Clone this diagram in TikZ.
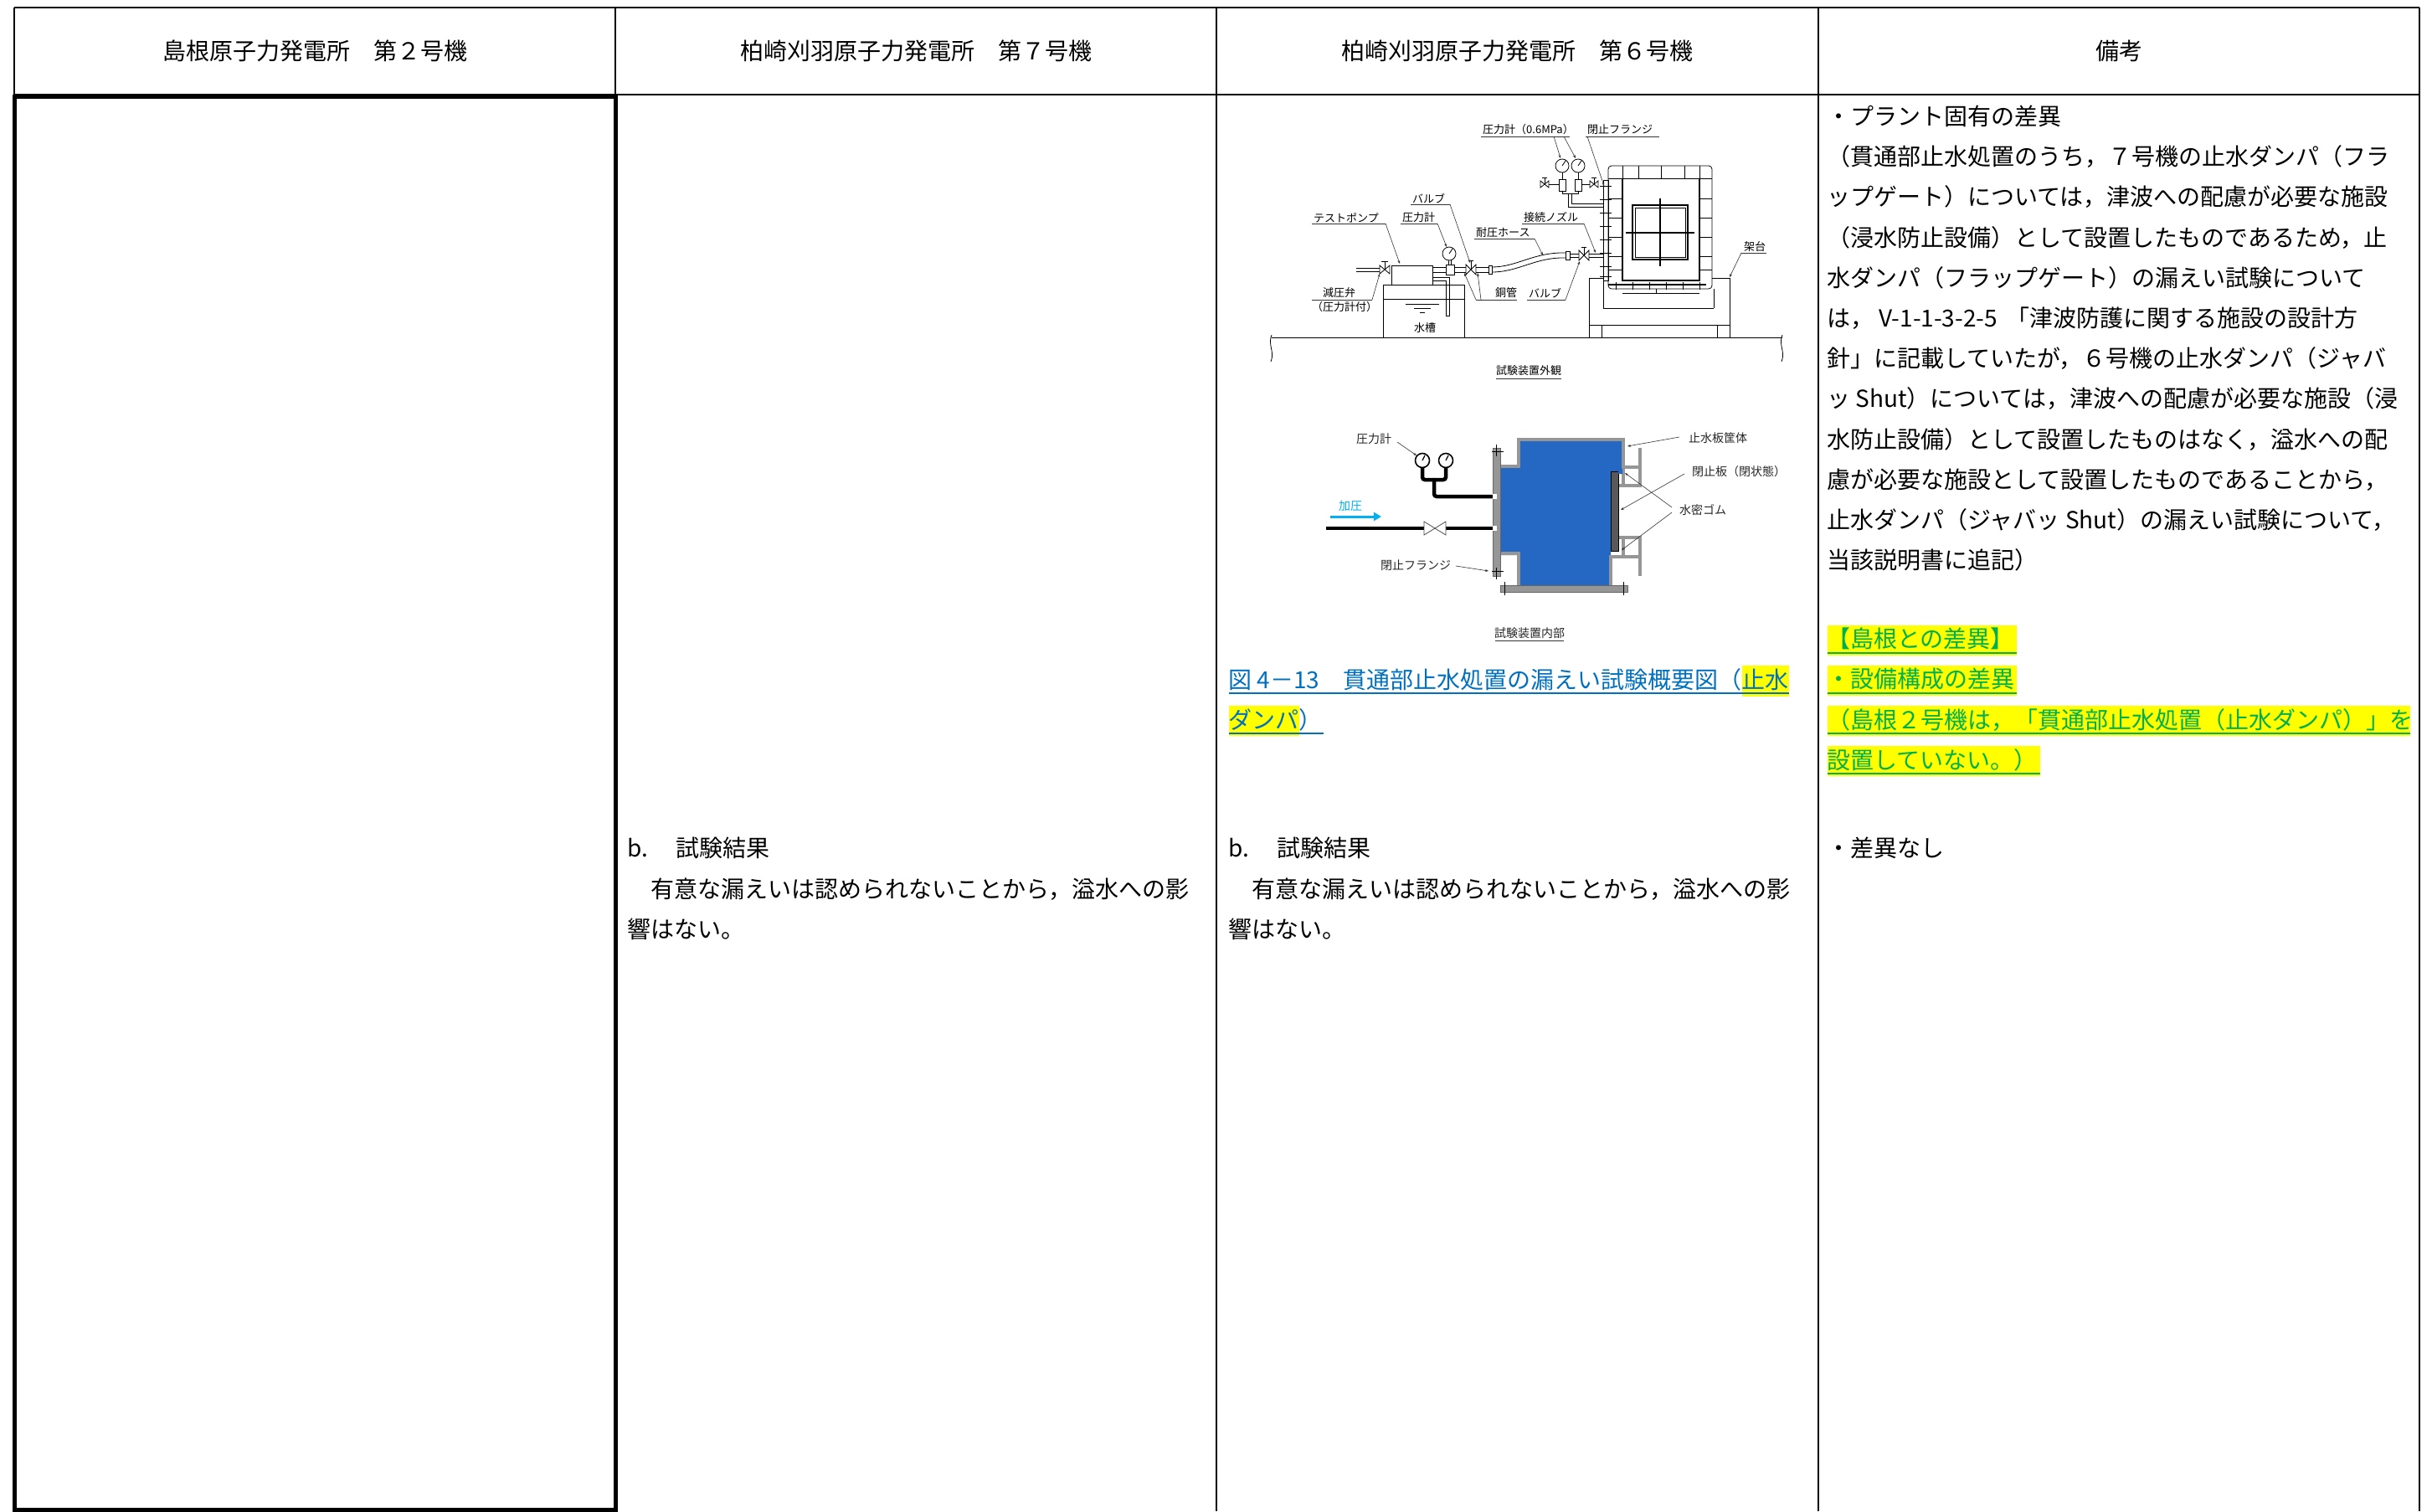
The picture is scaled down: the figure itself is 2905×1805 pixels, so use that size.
\documentclass[tikz,border=0pt]{standalone}
\usepackage{fontspec}
\setmainfont{Noto Sans CJK JP}
\usetikzlibrary{arrows.meta}
\definecolor{hlyellow}{RGB}{255,255,0}
\definecolor{hlgreen}{RGB}{0,176,80}
\definecolor{capblue}{RGB}{0,112,192}
\definecolor{waterblue}{RGB}{36,104,196}
\definecolor{arrowcyan}{RGB}{0,176,240}
\definecolor{steelgray}{RGB}{150,150,150}
\begin{document}
\begin{tikzpicture}[x=1pt,y=-1pt,
  gridline/.style={line width=2pt, black},
  thickgrid/.style={line width=5pt, black},
  body/.style={font=\fontsize{28}{34}\selectfont, inner sep=0pt, anchor=west},
  head/.style={font=\fontsize{28}{34}\selectfont, inner sep=0pt},
  hltext/.style={body, text=hlgreen},
  capt/.style={body, text=capblue},
  ln/.style={line width=0.8pt, black},
  hv/.style={line width=1.4pt, black},
  lbl/.style={font=\fontsize{13}{15}\selectfont, inner sep=0pt, anchor=west},
  lblb/.style={font=\fontsize{14}{16}\selectfont, inner sep=0pt, anchor=west, text=black!85},
  leader/.style={line width=0.6pt, black!80},
  ptr/.style={leader, -{Stealth[length=4pt,width=3pt]}},
  wall/.style={line width=3.5pt, steelgray},
  blackpipe/.style={line width=4.5pt, black, line cap=round, rounded corners=3pt},
]
\useasboundingbox (0,0) rectangle (2905,1805);
\fill[white] (0,0) rectangle (2905,1805);

% ---------------- table ----------------
\draw[gridline] (17,9) -- (2890,9);
\draw[gridline] (17,9) -- (17,115);
\draw[gridline] (17,113) -- (2890,113);
\draw[gridline] (735,9) -- (735,1805);
\draw[gridline] (1453,9) -- (1453,1805);
\draw[gridline] (2172,9) -- (2172,1805);
\draw[gridline] (2890,9) -- (2890,1805);
\draw[thickgrid] (17,115) rectangle (735,1803);

\node[head] (h1) at (376,61) {島根原子力発電所　第２号機};
\node[head] (h2) at (1094,61) {柏崎刈羽原子力発電所　第７号機};
\node[head] (h3) at (1812,61) {柏崎刈羽原子力発電所　第６号機};
\node[head] (h4) at (2531,61) {備考};

% ---------------- column 2 ----------------
\node[body] (c2a) at (749,1013) {\makebox[58pt][l]{b.}試験結果};
\node[body] (c2b) at (749,1062) {　有意な漏えいは認められないことから，溢水への影};
\node[body] (c2c) at (749,1110) {響はない。};

% ---------------- column 3 ----------------
\node[body] (c3a) at (1467,1013) {\makebox[58pt][l]{b.}試験結果};
\node[body] (c3b) at (1467,1062) {　有意な漏えいは認められないことから，溢水への影};
\node[body] (c3c) at (1467,1110) {響はない。};

\fill[hlyellow] (2081,795) rectangle (2137,832);
\fill[hlyellow] (1468,843) rectangle (1552,879);
\node[capt] (cap1) at (1467,812) {\makebox[137pt][l]{図 4－13}貫通部止水処置の漏えい試験概要図（止水};
\node[capt] (cap2) at (1467,860) {ダンパ）};
\draw[capblue, line width=2pt] (1468,828) -- (2137,828);
\draw[capblue, line width=2pt] (1468,876) -- (1581,876);

% ---------------- column 4 ----------------
\node[body] (r1) at (2182,139) {・プラント固有の差異};
\node[body] (r2) at (2182,187) {（貫通部止水処置のうち，７号機の止水ダンパ（フラ};
\node[body] (r3) at (2182,235) {ップゲート）については，津波への配慮が必要な施設};
\node[body] (r4) at (2182,284) {（浸水防止設備）として設置したものであるため，止};
\node[body] (r5) at (2182,332) {水ダンパ（フラップゲート）の漏えい試験について};
\node[body] (r6) at (2182,380) {は，\makebox[158pt][l]{\hspace{6pt}V-1-1-3-2-5}「津波防護に関する施設の設計方};
\node[body] (r7) at (2182,428) {針」に記載していたが，６号機の止水ダンパ（ジャバ};
\node[body] (r8) at (2182,476) {ッ Shut）については，津波への配慮が必要な施設（浸};
\node[body] (r9) at (2182,525) {水防止設備）として設置したものはなく，溢水への配};
\node[body] (r10) at (2182,573) {慮が必要な施設として設置したものであることから，};
\node[body] (r11) at (2182,621) {止水ダンパ（ジャバッ Shut）の漏えい試験について，};
\node[body] (r12) at (2182,669) {当該説明書に追記）};

\fill[hlyellow] (2183,747) rectangle (2409,783);
\fill[hlyellow] (2183,795) rectangle (2409,831);
\fill[hlyellow] (2183,843) rectangle (2879,879);
\fill[hlyellow] (2183,891) rectangle (2437,927);
\node[hltext] (g1) at (2182,763) {【島根との差異】};
\node[hltext] (g2) at (2182,811) {・設備構成の差異};
\node[hltext] (g3) at (2182,860) {（島根２号機は，「貫通部止水処置（止水ダンパ）」を};
\node[hltext] (g4) at (2182,908) {設置していない。）};
\draw[hlgreen, line width=2.2pt] (2183,780) -- (2409,780);
\draw[hlgreen, line width=2.2pt] (2183,828) -- (2409,828);
\draw[hlgreen, line width=2.2pt] (2183,876) -- (2879,876);
\draw[hlgreen, line width=2.2pt] (2183,924) -- (2437,924);

\node[body] (r13) at (2182,1013) {・差異なし};

% ================ top figure (external view) ================
% ground
\draw[ln] (1519,403) -- (2129,403);
\draw[ln] (1519,400) .. controls (1514,412) and (1523,420) .. (1518,432);
\draw[ln] (2129,400) .. controls (2124,412) and (2133,420) .. (2128,432);
% water tank
\draw[ln] (1652,340) rectangle (1749,403);
\draw[ln] (1652,357) -- (1749,357);
\draw[ln] (1679,363) -- (1719,363);
\draw[ln] (1689,368) -- (1709,368);
\draw[ln] (1696,373) -- (1702,373);
\node[lbl, anchor=center] (tank) at (1702,392) {水槽};
% suction pipe
\draw[ln] (1711,331) -- (1731,331) -- (1731,377) -- (1727,377) -- (1727,335) -- (1711,335);
% pump
\draw[ln, fill=white] (1662,317) rectangle (1711,340);
% inlet pipe and relief valve
\draw[ln] (1620,320) -- (1648,320);
\draw[ln] (1620,324) -- (1648,324);
\draw[ln, fill=white] (1648,317) -- (1660,327) -- (1660,317) -- (1648,327) -- cycle;
\draw[ln] (1654,322) -- (1654,312);
\draw[ln] (1650,312) -- (1658,312);
% main copper pipe
\draw[ln] (1711,319) -- (1751,319);
\draw[ln] (1711,325) -- (1751,325);
\draw[ln, fill=white] (1727,316) rectangle (1737,328);
\draw[ln] (1730,311) -- (1730,316);
\draw[ln] (1733,311) -- (1733,316);
\draw[ln, fill=white] (1731,303) circle[radius=8];
\draw[ln] (1731,303) -- (1735,297);
\draw[ln, fill=white] (1751,316) -- (1763,328) -- (1763,316) -- (1751,328) -- cycle;
\draw[ln] (1757,322) -- (1757,311);
\draw[ln] (1754,311) -- (1760,311);
\draw[ln] (1763,319) -- (1778,319);
\draw[ln] (1763,325) -- (1778,325);
\draw[ln, fill=white] (1778,317) rectangle (1782,327);
% hose
\draw[ln] (1782,319) .. controls (1812,319) and (1832,301) .. (1870,302);
\draw[ln] (1782,325) .. controls (1814,325) and (1834,307) .. (1870,308);
\draw[ln, fill=white] (1870,300) rectangle (1875,310);
\draw[ln] (1875,303) -- (1886,303);
\draw[ln] (1875,307) -- (1886,307);
\draw[ln, fill=white] (1886,299) -- (1898,311) -- (1898,299) -- (1886,311) -- cycle;
\draw[ln] (1892,305) -- (1892,295);
\draw[ln] (1889,295) -- (1895,295);
\draw[ln] (1898,303) -- (1915,303);
\draw[ln] (1898,307) -- (1915,307);
% frame (kadai)
\draw[ln] (1898,403) -- (1898,332) -- (1921,332);
\draw[ln] (2045,332) -- (2066,332) -- (2066,403);
\draw[ln] (1915,335) -- (1915,368);
\draw[ln] (2047,345) -- (2047,368);
\draw[ln] (1915,368) -- (2047,368);
\draw[ln] (1898,388) -- (2066,388);
\draw[ln] (1913,388) -- (1913,403);
\draw[ln] (2051,388) -- (2051,403);
% flange
\draw[ln, fill=white] (1915,215) rectangle (1921,335);
\foreach \yy in {222,238,254,270,286,302,318,330} \draw[ln] (1911,\yy) -- (1925,\yy);
% damper body
\draw[ln, rounded corners=4pt] (1921,198) rectangle (2045,345);
\draw[ln] (1921,213) -- (2045,213);
\foreach \xx in {1938,1957,1984,2012,2030} \draw[ln] (\xx,198) -- (\xx,213);
\draw[hv] (1938,213) -- (1938,335) -- (2030,335) -- (2030,213);
\foreach \yy in {237,260,283,306,322} {\draw[ln] (1921,\yy) -- (1938,\yy); \draw[ln] (2030,\yy) -- (2045,\yy);}
\draw[hv] (1950,245) rectangle (2016,310);
\draw[ln] (1953,248) rectangle (2013,307);
\draw[line width=1.2pt] (1983,237) -- (1983,318);
\draw[line width=1.2pt] (1942,278) -- (2024,278);
\draw[line width=1.2pt] (1921,340) -- (2038,340);
\foreach \xx in {1930,1950,1970,1990,2010,2030} \draw[ln] (\xx,337) -- (\xx,346);
\draw[ln] (1938,350) -- (2030,350);
\draw[ln] (1978,345) -- (1978,350);
% top gauges
\draw[ln, fill=white] (1866,198) circle[radius=8];
\draw[ln, fill=white] (1885,198) circle[radius=8];
\draw[ln] (1866,198) -- (1870,192);
\draw[ln] (1885,198) -- (1889,192);
\draw[ln] (1866,206) -- (1866,214);
\draw[ln] (1885,206) -- (1885,214);
\draw[ln, fill=white] (1862,214) rectangle (1870,228);
\draw[ln, fill=white] (1881,214) rectangle (1889,228);
\draw[ln] (1850,220) -- (1862,220);
\draw[ln] (1889,220) -- (1899,220);
\draw[ln, fill=white] (1840,216) -- (1850,224) -- (1850,216) -- (1840,224) -- cycle;
\draw[ln, fill=white] (1899,216) -- (1909,224) -- (1909,216) -- (1899,224) -- cycle;
\draw[ln] (1845,220) -- (1845,212);
\draw[ln] (1842,212) -- (1848,212);
\draw[ln] (1904,220) -- (1904,212);
\draw[ln] (1901,212) -- (1907,212);
\draw[ln] (1866,228) -- (1866,231) -- (1885,231) -- (1885,228);
\draw[ln] (1873,231) -- (1873,247) -- (1915,247);
\draw[ln] (1877,231) -- (1877,243) -- (1915,243);
% labels (top figure)
\node[lbl] (lgauge) at (1771,155) {圧力計（0.6MPa）};
\draw[leader] (1769,163) -- (1875,163);
\draw[ptr] (1856,163) -- (1864,189);
\draw[ptr] (1868,163) -- (1882,189);
\node[lbl] (lflange) at (1896,155) {閉止フランジ};
\draw[leader] (1894,163) -- (1982,163);
\draw[ptr] (1896,163) -- (1916,222);
\node[lbl] (lvalve1) at (1687,237) {バルブ};
\draw[leader] (1685,244) -- (1732,244);
\draw[ptr] (1732,244) -- (1756,314);
\node[lbl] (lpump) at (1569,260) {テストポンプ};
\draw[leader] (1567,267) -- (1655,267);
\draw[ptr] (1655,267) -- (1672,315);
\node[lbl] (lgauge2) at (1675,260) {圧力計};
\draw[leader] (1673,267) -- (1717,267);
\draw[ptr] (1717,267) -- (1728,295);
\node[lbl] (lnozzle) at (1820,260) {接続ノズル};
\draw[leader] (1818,267) -- (1892,267);
\draw[ptr] (1892,267) -- (1906,302);
\node[lbl] (lhose) at (1763,278) {耐圧ホース};
\draw[leader] (1761,285) -- (1833,285);
\draw[ptr] (1833,285) -- (1843,305);
\node[lbl] (lframe) at (2083,295) {架台};
\draw[leader] (2080,302) -- (2110,302);
\draw[ptr] (2080,302) -- (2066,331);
\node[lbl] (lrelief) at (1580,350) {減圧弁};
\node[lbl] (lrelief2) at (1567,367) {（圧力計付）};
\draw[leader] (1567,358) -- (1639,358);
\draw[ptr] (1639,358) -- (1648,327);
\node[lbl] (lcopper) at (1786,350) {銅管};
\draw[leader] (1763,358) -- (1812,358);
\draw[ptr] (1763,358) -- (1749,326);
\draw[ptr] (1769,358) -- (1765,326);
\node[lbl] (lvalve2) at (1826,350) {バルブ};
\draw[leader] (1824,358) -- (1870,358);
\draw[ptr] (1870,358) -- (1887,312);
\node[lbl, anchor=center] (capA) at (1826,443) {試験装置外観};
\draw[leader] (1787,452) -- (1865,452);

% ================ bottom figure (internal view) ================
% water
\fill[waterblue] (1816,527) -- (1937,527) -- (1937,563) -- (1924,563) -- (1924,663) -- (1922,663)
  -- (1922,703) -- (1816,703) -- (1816,663) -- (1788,663) -- (1788,558) -- (1816,558) -- cycle;
% housing walls
\draw[wall] (1792,557) -- (1814,557) -- (1814,525) -- (1939,525) -- (1939,560);
\draw[wall] (1792,661) -- (1814,661) -- (1814,701);
\draw[wall] (1924,701) -- (1924,665) -- (1960,665);
\draw[wall] (1937,558) -- (1960,558);
\draw[wall] (1933,580) -- (1960,580);
\draw[wall] (1939,558) -- (1939,580);
\draw[wall] (1959,535) -- (1959,582);
\draw[wall] (1933,642) -- (1960,642);
\draw[wall] (1939,642) -- (1939,665);
\draw[wall] (1959,640) -- (1959,688);
\fill[steelgray] (1783,535) rectangle (1792,688);
\draw[black!60, line width=0.5pt] (1783,535) rectangle (1792,688);
\fill[steelgray] (1792,699) rectangle (1944,707);
\draw[black!60, line width=0.5pt] (1792,699) rectangle (1944,707);
\draw[ln] (1787,531) -- (1787,545);
\draw[ln] (1782,539) -- (1796,539);
\draw[ln] (1787,678) -- (1787,692);
\draw[ln] (1782,682) -- (1796,682);
\draw[ln] (1797,695) -- (1797,711);
\draw[ln] (1939,695) -- (1939,711);
% closing plate
\fill[black!65] (1924,563) rectangle (1933,658);
\draw[black, line width=0.5pt] (1924,563) rectangle (1933,658);
\fill[waterblue] (1933,557) -- (1938,560) -- (1938,566) -- (1933,566) -- cycle;
% gauges and pipes
\draw[blackpipe] (1699,558) -- (1699,573) -- (1727,573) -- (1727,558);
\draw[blackpipe] (1713,573) -- (1713,593) -- (1784,593);
\draw[line width=1.6pt, black, fill=white] (1699,550) circle[radius=8.5];
\draw[line width=1.6pt, black, fill=white] (1727,550) circle[radius=8.5];
\draw[line width=1.2pt] (1699,550) -- (1702,544);
\draw[line width=1.2pt] (1727,550) -- (1730,544);
\draw[line width=4.5pt, black] (1584,631) -- (1701,631);
\draw[line width=4.5pt, black] (1727,631) -- (1784,631);
\draw[line width=0.8pt, black!70, fill=white] (1701,623) -- (1727,639) -- (1727,623) -- (1701,639) -- cycle;
\fill[white] (1783,590) rectangle (1788,596);
\fill[white] (1783,628) rectangle (1788,634);
% pressurise arrow
\draw[arrowcyan, line width=3pt, -{Triangle[length=9pt,width=10pt]}] (1589,617) -- (1650,617);
\node[lblb, anchor=center, text=arrowcyan] (kaatsu) at (1613,604) {加圧};
% labels (bottom figure)
\node[lblb] (bgauge) at (1620,524) {圧力計};
\draw[ptr] (1669,528) -- (1692,544);
\node[lblb] (bflange) at (1649,675) {閉止フランジ};
\draw[ptr] (1739,676) -- (1778,682);
\node[lblb] (bhousing) at (2017,523) {止水板筐体};
\draw[ptr] (2006,522) -- (1944,533);
\node[lblb] (bplate) at (2021,563) {閉止板（閉状態）};
\draw[ptr] (2012,566) -- (1936,609);
\node[lblb] (brubber) at (2006,609) {水密ゴム};
\draw[ptr] (1997,606) -- (1941,565);
\draw[ptr] (1997,612) -- (1937,657);
\node[lblb, anchor=center] (capB) at (1827,756) {試験装置内部};
\draw[leader] (1786,765) -- (1868,765);
\end{tikzpicture}
\end{document}
